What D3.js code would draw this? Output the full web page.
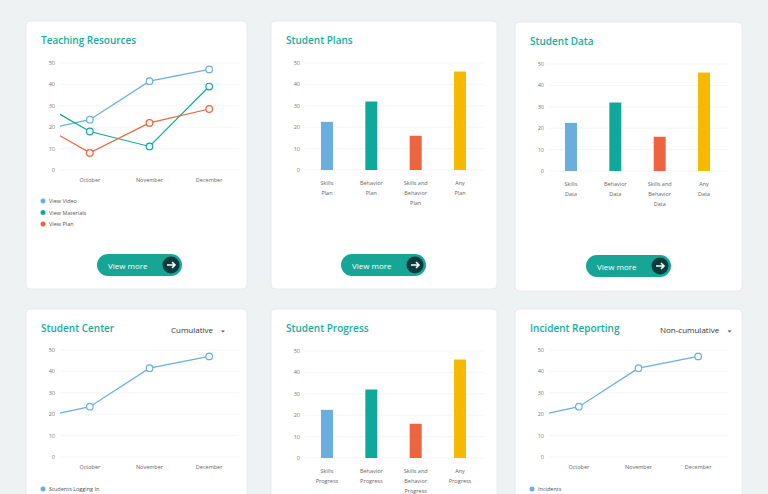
<!DOCTYPE html>
<html><head><meta charset="utf-8">
<script src="https://cdn.jsdelivr.net/npm/d3@7"></script>
<style>body{margin:0;background:#eef2f3;font-family:"Open Sans",sans-serif}</style>
</head><body><svg id="c" width="768" height="494"></svg>
<script>
const months = ["October","November","December"];
const yTicks = [0,10,20,30,40,50];
const videoVals = [20.5,23.5,41.5,47];
const materialsVals = [26,18,11,39];
const planVals = [16,8,22,28.5];
const barVals = [22.5,32,16,46];
const barColors = ["#6aaee0","#10a89a","#ec6440","#f6b900"];
const planCats = [["Skills","Plan"],["Behavior","Plan"],["Skills and","Behavior","Plan"],["Any","Plan"]];
const dataCats = [["Skills","Data"],["Behavior","Data"],["Skills and","Behavior","Data"],["Any","Data"]];
const progCats = [["Skills","Progress"],["Behavior","Progress"],["Skills and","Behavior","Progress"],["Any","Progress"]];
const BLUE="#6aaee0",TEAL="#10a89a",ORANGE="#ec6440";

const svg=d3.select("#c");
function card(x,y,w,h,title){
  const g=svg.append("g").attr("transform",`translate(${x},${y})`);
  g.append("rect").attr("width",w).attr("height",h).attr("rx",4).attr("fill","#fff").attr("stroke","#e6ebec");
  g.append("text").attr("x",15).attr("y",23).attr("font-size",10).attr("font-weight",600).attr("fill","#17aba0").text(title);
  return g;
}
function yAxis(g,top,bot){
  const y=d3.scaleLinear().domain([0,50]).range([bot,top]);
  yTicks.forEach(t=>{
    g.append("line").attr("x1",34).attr("x2",213).attr("y1",y(t)).attr("y2",y(t)).attr("stroke","#f3f5f6");
    g.append("text").attr("x",29).attr("y",y(t)+2).attr("text-anchor","end").attr("font-size",5.5).attr("fill","#777").text(t);
  });
  return y;
}
function button(g,x,y){
  const b=g.append("g").attr("transform",`translate(${x},${y})`);
  b.append("rect").attr("width",85).attr("height",22).attr("rx",11).attr("fill","#17a596");
  b.append("text").attr("x",11).attr("y",14.5).attr("font-size",8).attr("fill","#fff").text("View more");
  b.append("circle").attr("cx",74).attr("cy",11).attr("r",8.5).attr("fill","#0c3b3b");
  b.append("path").attr("d","M70,11H78M75,8L78,11L75,14").attr("stroke","#fff").attr("stroke-width",1.6).attr("fill","none");
}
function lineChart(g,top,bot,series){
  const y=yAxis(g,top,bot);
  const x=d3.scalePoint().domain(months).range([34,213]).padding(0.5);
  months.forEach(m=>g.append("text").attr("x",x(m)).attr("y",bot+12).attr("text-anchor","middle").attr("font-size",5.5).attr("fill","#666").text(m));
  series.forEach(s=>{
    const pts=s.vals.map((v,i)=>[i===0?34:x(months[i-1]),y(v)]);
    g.append("path").attr("d",d3.line()(pts)).attr("fill","none").attr("stroke",s.c).attr("stroke-width",1.2);
    pts.slice(1).forEach(p=>g.append("circle").attr("cx",p[0]).attr("cy",p[1]).attr("r",3.3).attr("fill","#fff").attr("stroke",s.c).attr("stroke-width",1.2));
  });
}
function legend(g,y0,items){
  items.forEach((it,i)=>{
    g.append("circle").attr("cx",17).attr("cy",y0+i*11.5).attr("r",2.5).attr("fill",it.c);
    g.append("text").attr("x",23).attr("y",y0+i*11.5+2).attr("font-size",5.5).attr("fill","#555").text(it.n);
  });
}
function barChart(g,top,bot,cats){
  const y=yAxis(g,top,bot);
  const x=d3.scaleBand().domain(d3.range(4)).range([34,211]).paddingInner(0.73).paddingOuter(0.36);
  barVals.forEach((v,i)=>{
    g.append("rect").attr("x",x(i)).attr("width",x.bandwidth()).attr("y",y(v)).attr("height",y(0)-y(v)).attr("fill",barColors[i]);
    cats[i].forEach((l,j)=>g.append("text").attr("x",x(i)+x.bandwidth()/2).attr("y",bot+15+j*10).attr("text-anchor","middle").attr("font-size",5.5).attr("fill","#666").text(l));
  });
}
function dropdown(g,x,label){
  g.append("text").attr("x",x).attr("y",24).attr("font-size",8).attr("fill","#333").text(label);
  const w=label.length*4.4;
  g.append("path").attr("d",`M${x+w+6},21.5l2,2l2,-2z`).attr("fill","#555");
}

let g=card(26,21,221,268,"Teaching Resources");
lineChart(g,42,149,[{vals:videoVals,c:BLUE},{vals:materialsVals,c:TEAL},{vals:planVals,c:ORANGE}]);
legend(g,180,[{n:"View Video",c:BLUE},{n:"View Materials",c:TEAL},{n:"View Plan",c:ORANGE}]);
button(g,71,233);

g=card(271,21,226,268,"Student Plans");
barChart(g,42,149,planCats); button(g,70,233);

g=card(515,22,227,269,"Student Data");
barChart(g,42,149,dataCats); button(g,71,233);

g=card(26,309,221,200,"Student Center");
dropdown(g,145,"Cumulative");
lineChart(g,41,148,[{vals:videoVals,c:BLUE}]);
legend(g,180,[{n:"Students Logging In",c:BLUE}]);

g=card(271,309,226,200,"Student Progress");
barChart(g,42,149,progCats);

g=card(515,309,227,200,"Incident Reporting");
dropdown(g,145,"Non-cumulative");
lineChart(g,41,148,[{vals:videoVals,c:BLUE}]);
legend(g,180,[{n:"Incidents",c:BLUE}]);
</script></body></html>
